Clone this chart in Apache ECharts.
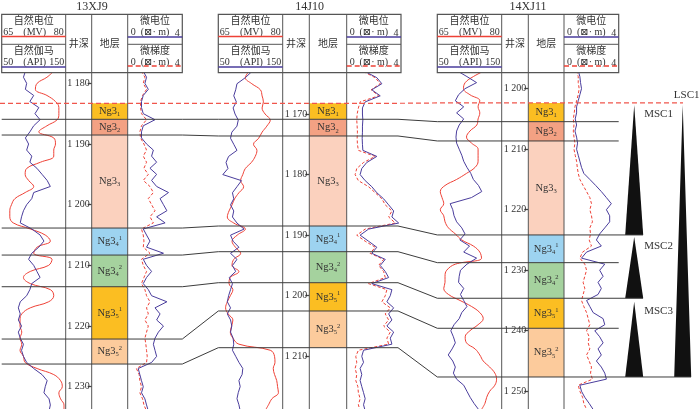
<!DOCTYPE html>
<html>
<head>
<meta charset="utf-8" />
<title>连井层序对比图</title>
<script type="text/javascript" src="https://cdn.jsdelivr.net/npm/echarts@6.0.0/dist/echarts.min.js"></script>
<style>
  html, body { margin: 0; padding: 0; background: #fff; }
  #main { width: 700px; height: 409px; }
</style>
</head>
<body>
<div id="main"></div>
<script type="text/javascript">
// 井名
var wellNames = ['13XJ9', '14J10', '14XJ11'];
// 曲线起始深度 (m)，采样间隔 1 m
var startDepth = [1178, 1163, 1197];

// 13XJ9
var sp13 = [77.2,75.6,73.3,72.9,75.6,77.6,78.4,78.4,78.0,75.6,73.7,77.2,77.6,77.2,77.2,74.1,70.9,70.5,71.3,72.5,70.5,68.1,67.3,66.9,66.9,67.7,71.7,75.2,76.4,73.3,72.5,76.8,76.0,71.7,70.1,71.7,76.4,77.2,76.0,71.7,69.7,69.3,69.3,69.7,69.3,69.7,69.3,70.1,70.5,73.3,77.2,78.8,79.2,78.4,78.8,79.6,79.6];
var gr13 = [87,84,89,87,100,94,108,102,110,100,94,87,92,89,97,94,105,113,121,126,100,97,89,84,81,79,97,110,116,108,97,92,100,105,110,97,94,89,79,76,79,76,81,76,79,84,81,84,89,100,113,121,118,116,124,126,124];
var mp13 = [1.14,1.38,1.26,1.51,1.14,1.01,1.01,1.14,2.00,1.14,1.01,1.01,1.38,1.88,1.75,2.12,1.63,2.12,1.75,2.12,2.99,2.37,2.62,2.87,2.12,2.74,1.14,1.38,1.63,1.38,2.62,1.14,1.38,1.75,1.38,1.14,1.51,1.75,2.87,2.00,2.37,2.12,2.62,2.25,2.00,1.88,2.00,2.12,1.75,0.77,0.89,1.01,1.14,1.01,1.26,1.38,1.51];
var mg13 = [1.01,1.26,1.14,1.38,1.09,0.94,0.94,1.01,1.38,1.01,0.89,0.94,1.19,1.38,1.14,1.38,1.19,1.51,1.14,1.63,1.88,1.51,1.75,2.00,1.63,1.88,1.01,1.14,1.19,1.14,1.63,1.01,1.14,1.38,1.19,1.01,1.26,1.38,1.63,1.38,1.51,1.26,1.51,1.38,1.26,1.33,1.38,1.43,1.38,0.64,0.84,0.89,1.01,0.89,1.09,1.19,1.38];

// 14J10
var sp10 = [72.1,71.3,72.8,74.8,75.2,75.5,75.2,75.9,77.1,76.3,75.2,74.4,73.2,74.0,73.6,72.7,71.3,70.7,70.2,70.9,69.8,68.8,68.2,67.5,67.1,68.6,71.3,69.4,68.2,69.0,70.2,68.6,68.2,69.8,67.8,67.5,68.4,67.8,67.1,66.7,67.3,68.4,68.1,67.8,68.4,69.8,77.1,78.1,78.2,77.8,78.1,78.6,78.8,79.0,77.5,76.7,75.9];
var gr10 = [102,92,79,77,74,78,73,76,81,79,71,69,74,79,66,62,65,57,86,79,72,74,69,74,72,79,90,69,73,82,69,79,72,77,67,72,69,66,64,69,64,69,71,69,73,74,72,77,82,88,87,82,84,81,79,82,84];
var mp10 = [1.36,2.22,2.59,1.85,2.47,1.36,1.16,1.16,1.19,1.16,1.16,1.14,1.16,1.19,2.22,1.48,1.11,0.99,1.36,1.85,2.22,2.72,3.09,3.46,3.33,3.83,1.61,0.99,1.61,2.22,1.85,2.84,2.47,2.84,3.09,1.85,3.33,3.21,2.96,3.46,3.09,3.33,2.96,3.46,3.21,3.33,1.24,1.11,1.24,0.99,1.11,0.99,1.11,1.24,1.36,1.24,1.36];
var mg10 = [1.24,2.10,2.47,1.80,2.35,0.99,0.86,0.77,0.74,0.77,0.79,0.77,0.79,0.86,2.10,1.24,0.74,0.62,0.86,1.61,2.10,2.59,2.84,3.33,3.09,3.58,1.36,0.74,1.36,2.10,1.73,2.72,2.35,2.72,2.84,1.61,2.96,2.84,2.59,3.21,2.84,3.09,2.72,3.21,2.96,3.09,0.86,0.67,0.74,0.62,0.74,0.67,0.82,0.86,0.99,0.86,0.99];

// 14XJ11
var sp11 = [76.1,73.4,71.5,71.1,72.6,74.9,74.5,74.9,74.5,74.2,72.6,71.8,73.0,74.5,74.5,74.5,73.8,71.8,69.5,66.8,65.7,66.1,66.5,65.7,66.5,66.8,67.6,69.2,70.7,73.4,74.9,75.3,69.2,67.2,66.8,66.8,66.5,67.6,70.3,73.0,74.9,75.7,74.5,72.6,71.5,71.8,73.8,74.9,75.7,77.2,78.4,78.8,78.4,77.2,76.5,76.1,75.3];
var gr11 = [80,96,111,93,83,78,91,80,91,84,80,79,80,84,88,91,96,102,106,114,119,103,70,74,76,80,88,93,85,100,91,111,96,86,84,83,91,86,91,96,88,84,76,71,75,78,73,67,74,78,75,80,91,96,101,107,114];
var mp11 = [1.04,1.16,1.21,1.28,1.16,1.04,0.92,0.92,0.82,0.92,0.80,0.92,0.99,0.92,1.04,1.16,1.28,1.45,1.89,2.32,2.73,3.10,3.46,3.10,3.34,3.34,2.98,2.61,2.37,2.73,1.65,1.28,2.98,2.61,2.86,2.49,2.73,2.49,1.65,1.89,2.13,2.86,2.98,2.25,2.61,2.86,2.49,2.73,2.37,2.73,2.98,3.10,1.16,1.28,1.52,1.84,2.13];
var mg11 = [0.92,1.04,1.04,1.11,1.04,0.92,0.80,0.75,0.68,0.73,0.68,0.73,0.80,0.73,0.82,0.92,0.97,1.04,1.16,1.40,1.65,1.89,2.01,1.89,2.01,2.08,1.89,1.94,1.84,2.01,1.36,1.16,1.52,1.65,1.52,1.40,1.52,1.40,1.28,1.45,1.65,1.77,1.89,1.65,1.84,1.77,1.89,1.65,1.84,2.01,1.94,2.08,1.04,1.16,1.36,1.45,1.65];

// 层位分界深度 (m)：LSC1顶、各小层底界
var bounds13 = [1183.30, 1185.93, 1188.52, 1203.85, 1208.30, 1213.52, 1222.14, 1226.26];
var bounds10 = [1168.23, 1170.87, 1173.63, 1188.49, 1192.73, 1197.85, 1202.52, 1208.58];
var bounds11 = [1202.36, 1205.45, 1208.64, 1224.17, 1228.75, 1234.63, 1239.59, 1247.64];
var layerNames = ['Ng3_1', 'Ng3_2', 'Ng3_3', 'Ng3_4^1', 'Ng3_4^2', 'Ng3_5^1', 'Ng3_5^2'];

// 井深刻度
var depthTicks13 = [1180, 1190, 1200, 1210, 1220, 1230];
var depthTicks10 = [1170, 1180, 1190, 1200, 1210];
var depthTicks11 = [1200, 1210, 1220, 1230, 1240, 1250];

// 层序 (14XJ11)
var seqNames = ['LSC1', 'MSC1', 'MSC2', 'MSC3'];
var seqTop = [1202.7, 1202.7, 1224.5, 1235.2];
var seqBase = [1247.64, 1224.17, 1234.63, 1247.64];

// ---- 样式与布局 ----
var RED = '#ee4136', BLUE = '#4a3d9c', LINE = '#3c3c3c', TXT = '#333';
var SERIF = "'Liberation Serif', 'DejaVu Serif', 'Noto Sans CJK SC', serif";
var layerColors = ['#fbbe22', '#f3a183', '#fbd1be', '#9dd3f0', '#a5d29e', '#fbbe22', '#fccb9c'];
var wellX = [[1.7, 65.7, 91.7, 127.7, 182.3], [218.3, 282.7, 309.3, 346.7, 401], [437.3, 501.7, 528.3, 564, 618.7]];
var depthRange = [[1178.30, 1233.67], [1163.23, 1218.70], [1197.41, 1252.93]];
var TOP = 73, BOTTOM = 409;
var HEAD_TOP = 14.3, HEAD_MID = 44.3, HEAD_BOT = 72.7;

var logs = [[sp13, gr13, mp13, mg13], [sp10, gr10, mp10, mg10], [sp11, gr11, mp11, mg11]];
var bounds = [bounds13, bounds10, bounds11];
var ticks = [depthTicks13, depthTicks10, depthTicks11];

function pairs(vals, d0) {
    return vals.map(function (v, i) { return [v, d0 + i]; });
}

function layerRich(name) {
    var m = /^([^_]+)_(\d)(?:\^(\d))?$/.exec(name);
    var s = '{a|' + m[1] + '}{b|' + m[2] + '}';
    if (m[3]) s += '{c|' + m[3] + '}';
    return s;
}

var rich = {
    a: { fontSize: 10.5, fontFamily: SERIF, lineHeight: 13, fill: TXT },
    b: { fontSize: 6.5, fontFamily: SERIF, lineHeight: 7, verticalAlign: 'bottom', fill: TXT },
    c: { fontSize: 6.5, fontFamily: SERIF, lineHeight: 7, verticalAlign: 'top', fill: TXT }
};

var grid = [], xAxis = [], yAxis = [], series = [];

wellNames.forEach(function (name, i) {
    var x = wellX[i];
    var h = BOTTOM - TOP;
    grid.push({ left: x[0], top: TOP, width: x[1] - x[0], height: h });
    grid.push({ left: x[2], top: TOP, width: x[3] - x[2], height: h });
    grid.push({ left: x[3], top: TOP, width: x[4] - x[3], height: h });

    xAxis.push({ type: 'value', gridIndex: 3 * i, min: 65, max: 80, show: false });
    xAxis.push({ type: 'value', gridIndex: 3 * i, min: 50, max: 150, show: false });
    xAxis.push({ type: 'value', gridIndex: 3 * i + 1, min: 0, max: 1, show: false });
    xAxis.push({ type: 'value', gridIndex: 3 * i + 2, min: 0, max: 4, show: false });

    for (var g = 0; g < 3; g++) {
        var ax = {
            type: 'value', gridIndex: 3 * i + g, inverse: true,
            min: depthRange[i][0], max: depthRange[i][1], show: false
        };
        if (g === 1) {
            ax.show = true;
            ax.axisLine = { show: false };
            ax.splitLine = { show: false };
            ax.axisTick = { show: true, length: 4, customValues: ticks[i], lineStyle: { color: '#444', width: 1.3 } };
            ax.axisLabel = {
                customValues: ticks[i], margin: 2, color: TXT, fontSize: 10, fontFamily: SERIF,
                formatter: function (v) { return String(v).replace(/^(\d)(\d{3})$/, '$1 $2'); }
            };
        }
        yAxis.push(ax);
    }

    var d0 = startDepth[i];
    series.push({
        type: 'line', name: '自然电位', xAxisIndex: 4 * i, yAxisIndex: 3 * i,
        data: pairs(logs[i][0], d0), showSymbol: false, smooth: 0.4,
        lineStyle: { color: RED, width: 1 }, z: 3
    });
    series.push({
        type: 'line', name: '自然伽马', xAxisIndex: 4 * i + 1, yAxisIndex: 3 * i,
        data: pairs(logs[i][1], d0), showSymbol: false,
        lineStyle: { color: BLUE, width: 1 }, z: 4
    });
    series.push({
        type: 'line', name: '微梯度', xAxisIndex: 4 * i + 3, yAxisIndex: 3 * i + 2,
        data: pairs(logs[i][3], d0), showSymbol: false,
        lineStyle: { color: RED, width: 1, type: [3, 2] }, z: 3
    });
    series.push({
        type: 'line', name: '微电位', xAxisIndex: 4 * i + 3, yAxisIndex: 3 * i + 2,
        data: pairs(logs[i][2], d0), showSymbol: false,
        lineStyle: { color: BLUE, width: 1 }, z: 4
    });

    var b = bounds[i];
    var layerData = layerNames.map(function (n, k) { return [b[k], b[k + 1], k]; });
    series.push({
        type: 'custom', name: '地层', xAxisIndex: 4 * i + 2, yAxisIndex: 3 * i + 1,
        data: layerData, z: 1,
        renderItem: function (params, api) {
            var k = api.value(2);
            var p1 = api.coord([0, api.value(0)]);
            var p2 = api.coord([1, api.value(1)]);
            return {
                type: 'rect',
                shape: { x: p1[0], y: p1[1], width: p2[0] - p1[0], height: p2[1] - p1[1] },
                style: { fill: layerColors[k] },
                textContent: { style: { text: layerRich(layerNames[k]), rich: rich } },
                textConfig: { position: 'inside' }
            };
        }
    });
});

// 层序三角形栏
grid.push({ left: 618.7, top: TOP, width: 81.3, height: BOTTOM - TOP });
xAxis.push({ type: 'value', gridIndex: 9, min: 0, max: 81.3, show: false });
yAxis.push({ type: 'value', gridIndex: 9, inverse: true, min: depthRange[2][0], max: depthRange[2][1], show: false });
series.push({
    type: 'custom', name: '层序', xAxisIndex: 12, yAxisIndex: 9,
    data: seqNames.map(function (n, k) { return [seqTop[k], seqBase[k], k]; }),
    renderItem: function (params, api) {
        var k = api.value(2);
        var isL = seqNames[k].charAt(0) === 'L';
        var cx = isL ? 64 : 15.5, hw = isL ? 8.5 : 9;
        var t = api.coord([cx, api.value(0)]);
        var l = api.coord([cx - hw, api.value(1)]);
        var r = api.coord([cx + hw, api.value(1)]);
        var lab = isL ? api.coord([cx + 4, api.value(0)]) : api.coord([cx + hw + 1, api.value(0)]);
        return {
            type: 'group',
            children: [
                { type: 'polygon', shape: { points: [t, r, l] }, style: { fill: '#111' } },
                {
                    type: 'text', x: lab[0], y: isL ? lab[1] - 10 : lab[1] + 9,
                    style: {
                        text: seqNames[k], fill: TXT, fontSize: 11, fontFamily: SERIF,
                        align: isL ? 'center' : 'left', verticalAlign: 'middle'
                    }
                }
            ]
        };
    }
});

var myChart = echarts.init(document.getElementById('main'));
myChart.setOption({
    animation: false,
    backgroundColor: '#fff',
    grid: grid, xAxis: xAxis, yAxis: yAxis, series: series
});

// ---- 表头、分隔线与对比线 ----
function txt(x, y, s, align, size) {
    return {
        type: 'text', x: x, y: y, z: 20,
        style: { text: s, fill: TXT, fontSize: size || 10, fontFamily: SERIF, align: align || 'center', verticalAlign: 'middle' }
    };
}
function seg(x1, y1, x2, y2, color, width, dash) {
    return {
        type: 'line', z: 20, shape: { x1: x1, y1: y1, x2: x2, y2: y2 },
        style: { stroke: color || '#555', lineWidth: width || 1, lineDash: dash || null }
    };
}

var els = [];
wellNames.forEach(function (name, i) {
    var x = wellX[i];
    var cL = (x[0] + x[1]) / 2, cR = (x[3] + x[4]) / 2;
    els.push(txt((x[0] + x[4]) / 2, 6.5, name, 'center', 12));
    els.push({
        type: 'rect', z: 20, shape: { x: x[0], y: HEAD_TOP, width: x[4] - x[0], height: HEAD_BOT - HEAD_TOP },
        style: { fill: null, stroke: '#555', lineWidth: 1.2 }
    });
    els.push(seg(x[1], HEAD_TOP, x[1], BOTTOM));
    els.push(seg(x[2], HEAD_TOP, x[2], BOTTOM));
    els.push(seg(x[3], HEAD_TOP, x[3], BOTTOM));
    els.push(seg(x[0], HEAD_MID, x[1], HEAD_MID));
    els.push(seg(x[3], HEAD_MID, x[4], HEAD_MID));
    // 自然电位 / 自然伽马
    els.push(txt(cL, 21, '自然电位'));
    els.push(txt(x[0] + 1.5, 32, '65', 'left'));
    els.push(txt(cL + 1, 32, '(MV)'));
    els.push(txt(x[1] - 2, 32, '80', 'right'));
    els.push(seg(x[0], 36.5, x[1], 36.5, RED, 1.5));
    els.push(txt(cL, 51, '自然伽马'));
    els.push(txt(x[0] + 1.5, 62, '50', 'left'));
    els.push(txt(cL + 1, 62, '(API)'));
    els.push(txt(x[1] - 1.5, 62, '150', 'right'));
    els.push(seg(x[0], 67, x[1], 67, BLUE, 1.5));
    els.push(txt((x[1] + x[2]) / 2, HEAD_MID, '井深'));
    els.push(txt((x[2] + x[3]) / 2, HEAD_MID, '地层'));
    // 微电位 / 微梯度
    els.push(txt(cR, 21, '微电位'));
    els.push(txt(x[3] + 3, 32, '0', 'left'));
    els.push(txt(cR, 32, '(⊠· m)'));
    els.push(txt(x[4] - 2.5, 33.5, '4', 'right'));
    els.push(seg(x[3], 37, x[4], 37, BLUE, 1.5));
    els.push(txt(cR, 51, '微梯度'));
    els.push(txt(x[3] + 3, 62, '0', 'left'));
    els.push(txt(cR, 62, '(⊠· m)'));
    els.push(txt(x[4] - 2.5, 63.5, '4', 'right'));
    els.push(seg(x[3], 66, x[4], 66, RED, 1.5, [5, 3]));
});

// 层位对比线（按各井深度坐标换算）
var lineEnd = [683, 618.7, 618.7, 643, 618.7, 643, 618.7, 691];
function py(i, d) { return myChart.convertToPixel({ yAxisIndex: 3 * i }, d); }
for (var k = 0; k < bounds13.length; k++) {
    var y0 = py(0, bounds13[k]), y1 = py(1, bounds10[k]), y2 = py(2, bounds11[k]);
    var pts = [[k === 0 ? 0 : 1.7, y0], [182.3, y0], [218.3, y1], [398, y1], [437.3, y2], [lineEnd[k], y2]];
    els.push({
        type: 'polyline', z: k === 0 ? 30 : 25, shape: { points: pts },
        style: k === 0
            ? { fill: null, stroke: '#f0564c', lineWidth: 1.2, lineDash: [5, 3] }
            : { fill: null, stroke: LINE, lineWidth: 1 }
    });
}

myChart.setOption({ graphic: { elements: els } });
</script>
</body>
</html>
